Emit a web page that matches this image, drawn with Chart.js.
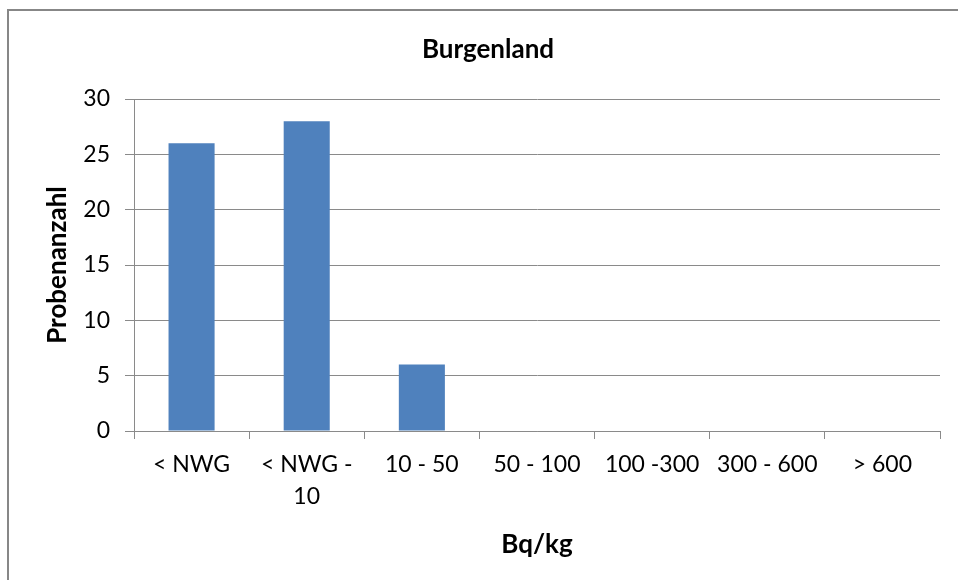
<!DOCTYPE html>
<html>
<head>
<meta charset="utf-8">
<script src="https://cdn.jsdelivr.net/npm/chart.js@4"></script>
<style>
  html, body { margin: 0; padding: 0; background: #fff; overflow: hidden; }
  #frame {
    position: absolute; left: 7px; top: 9px;
    width: 949px; height: 569px;
    border-left: 2px solid #878787; border-top: 2px solid #878787;
    border-right: 2px solid #878787; border-bottom: 2px solid #878787;
  }
  canvas { display: block; }
</style>
</head>
<body>
<div id="frame"><canvas id="c" width="949" height="569"></canvas></div>
<script>
// Probenanzahl je Aktivitätsklasse (Bq/kg), Burgenland
const categories = [["< NWG"], ["< NWG -", "10"], ["10 - 50"], ["50 - 100"], ["100 -300"], ["300 - 600"], ["> 600"]];
const counts = [26, 28, 6, 0, 0, 0, 0];
const yTicks = [0, 5, 10, 15, 20, 25, 30];

const GREY = '#8a8a8a';
const tickFont = { family: 'Lato', size: 23 };
const boldFont = { family: 'Lato', size: 26, weight: 'bold' };

new Chart(document.getElementById('c'), {
  type: 'bar',
  data: {
    labels: categories,
    datasets: [{
      label: 'Probenanzahl',
      data: counts,
      backgroundColor: '#4f81bd',
      borderWidth: 0,
      barPercentage: 0.4,
      categoryPercentage: 1.0
    }]
  },
  options: {
    responsive: false,
    animation: false,
    layout: { padding: { left: 9, right: 0, top: 0, bottom: 0 } },
    plugins: {
      legend: { display: false },
      tooltip: { enabled: false },
      title: {
        display: true,
        text: 'Burgenland',
        color: '#000',
        font: boldFont,
        padding: { top: 23.4, bottom: 33.4 }
      }
    },
    scales: {
      x: {
        grid: { display: true, offset: true, drawOnChartArea: false, drawTicks: true, tickLength: 8, color: GREY, lineWidth: 1 },
        border: { display: true, color: GREY, width: 1 },
        ticks: { color: '#000', font: Object.assign({ lineHeight: '32px' }, tickFont), padding: 10, maxRotation: 0, autoSkip: false },
        title: { display: true, text: 'Bq/kg', color: '#000', font: boldFont, padding: { top: 0, bottom: 19.4 } },
        afterFit: s => { s.height = 149; }
      },
      y: {
        min: 0, max: 30,
        afterBuildTicks: s => { s.ticks = yTicks.map(v => ({ value: v })); },
        grid: { color: GREY, lineWidth: 1, drawTicks: true, tickLength: 9 },
        border: { display: true, color: GREY, width: 1 },
        ticks: { color: '#000', font: tickFont, padding: 15 },
        title: { display: true, text: 'Probenanzahl', color: '#000', font: boldFont, padding: { top: 24.4, bottom: 0 } },
        afterFit: s => { s.width = 116; }
      },
      spacer: {
        position: 'right',
        display: true,
        grid: { display: false },
        border: { display: false },
        ticks: { display: false },
        afterFit: s => { s.width = 18; }
      }
    }
  }
});
</script>
</body>
</html>
